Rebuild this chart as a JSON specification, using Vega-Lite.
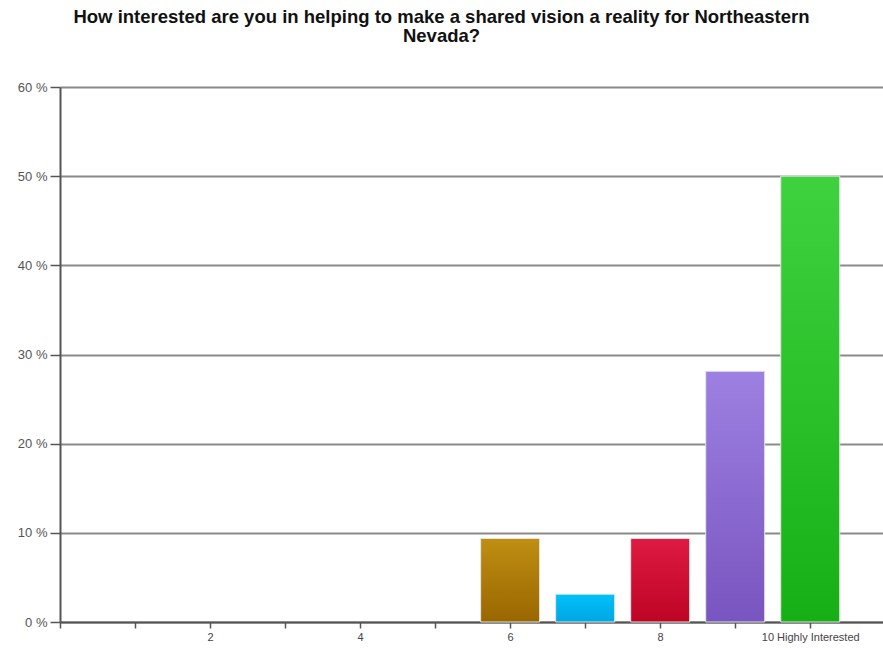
{
  "$schema": "https://vega.github.io/schema/vega-lite/v6.json",
  "width": 823,
  "height": 535,
  "autosize": {"type": "none"},
  "padding": {"left": 60, "top": 87, "right": 0, "bottom": 26},
  "background": "white",
  "title": {
    "text": ["How interested are you in helping to make a shared vision a reality for Northeastern", "Nevada?"],
    "font": "Liberation Sans",
    "fontSize": 18.5,
    "fontWeight": "bold",
    "color": "#111",
    "anchor": "middle",
    "dx": -30,
    "offset": 36,
    "lineHeight": 19
  },
  "data": {
    "values": [
      {"rating": 1, "pct": 0},
      {"rating": 2, "pct": 0},
      {"rating": 3, "pct": 0},
      {"rating": 4, "pct": 0},
      {"rating": 5, "pct": 0},
      {"rating": 6, "pct": 9.375},
      {"rating": 7, "pct": 3.125},
      {"rating": 8, "pct": 9.375},
      {"rating": 9, "pct": 28.125},
      {"rating": 10, "pct": 50}
    ]
  },
  "encoding": {
    "x": {
      "field": "rating",
      "type": "quantitative",
      "scale": {"domain": [0, 10.97], "nice": false, "zero": false, "padding": 0},
      "axis": {
        "title": null,
        "values": [0, 1, 2, 3, 4, 5, 6, 7, 8, 9, 10],
        "labelExpr": "datum.value == 10 ? '10 Highly Interested' : (datum.value > 0 && datum.value % 2 == 0 ? datum.label : '')",
        "grid": false,
        "domainColor": "#555",
        "domainWidth": 2,
        "tickColor": "#555",
        "tickWidth": 1.5,
        "tickSize": 6,
        "labelFont": "Liberation Sans",
        "labelFontSize": 11,
        "labelColor": "#444",
        "labelPadding": 3,
        "labelFlush": false,
        "labelOverlap": false
      }
    },
    "y": {
      "field": "pct",
      "type": "quantitative",
      "scale": {"domain": [0, 60], "nice": false},
      "axis": {
        "title": null,
        "values": [0, 10, 20, 30, 40, 50, 60],
        "labelExpr": "datum.value + ' %'",
        "grid": true,
        "gridColor": "#8a8a8a",
        "gridWidth": 2,
        "domainColor": "#555",
        "domainWidth": 2,
        "tickColor": "#555",
        "tickWidth": 1.5,
        "tickSize": 10,
        "labelFont": "Liberation Sans",
        "labelFontSize": 13,
        "labelColor": "#555",
        "labelPadding": 3
      }
    }
  },
  "layer": [
    {
      "transform": [{"filter": "datum.rating == 6"}],
      "mark": {"type": "bar", "width": 59, "stroke": "#e6e6e6", "strokeWidth": 1,
        "color": {"gradient": "linear", "x1": 0, "y1": 0, "x2": 0, "y2": 1, "stops": [{"offset": 0, "color": "#bf8e12"}, {"offset": 1, "color": "#996700"}]}}
    },
    {
      "transform": [{"filter": "datum.rating == 7"}],
      "mark": {"type": "bar", "width": 59, "stroke": "#e6e6e6", "strokeWidth": 1,
        "color": {"gradient": "linear", "x1": 0, "y1": 0, "x2": 0, "y2": 1, "stops": [{"offset": 0, "color": "#00c2fa"}, {"offset": 1, "color": "#00a6e2"}]}}
    },
    {
      "transform": [{"filter": "datum.rating == 8"}],
      "mark": {"type": "bar", "width": 59, "stroke": "#e6e6e6", "strokeWidth": 1,
        "color": {"gradient": "linear", "x1": 0, "y1": 0, "x2": 0, "y2": 1, "stops": [{"offset": 0, "color": "#de1a42"}, {"offset": 1, "color": "#be0425"}]}}
    },
    {
      "transform": [{"filter": "datum.rating == 9"}],
      "mark": {"type": "bar", "width": 59, "stroke": "#e6e6e6", "strokeWidth": 1,
        "color": {"gradient": "linear", "x1": 0, "y1": 0, "x2": 0, "y2": 1, "stops": [{"offset": 0, "color": "#9d80e2"}, {"offset": 1, "color": "#7955bf"}]}}
    },
    {
      "transform": [{"filter": "datum.rating == 10"}],
      "mark": {"type": "bar", "width": 59, "stroke": "#e6e6e6", "strokeWidth": 1,
        "color": {"gradient": "linear", "x1": 0, "y1": 0, "x2": 0, "y2": 1, "stops": [{"offset": 0, "color": "#3fd23f"}, {"offset": 1, "color": "#16b016"}]}}
    }
  ],
  "config": {"view": {"stroke": null}}
}
